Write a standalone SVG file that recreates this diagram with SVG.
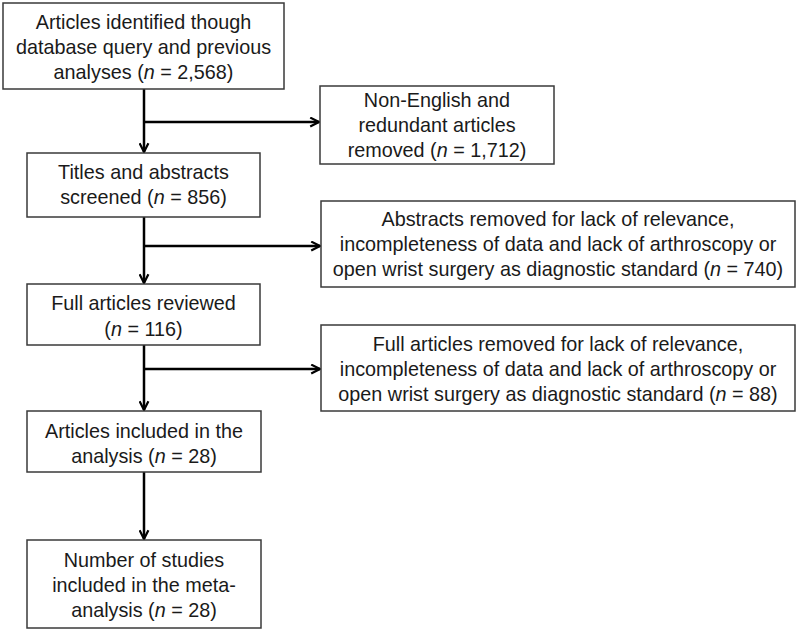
<svg xmlns="http://www.w3.org/2000/svg" width="800" height="630" viewBox="0 0 800 630">
<style>
.box{fill:#fff;stroke:#3a3a3a;stroke-width:1.5}
.t{font-family:"Liberation Sans",Arial,sans-serif;font-size:19.8px;fill:#1a1a1a;text-anchor:middle}
.c{fill:none;stroke:#000;stroke-width:2.5}
</style>
<defs>
<marker id="ah" viewBox="0 0 10 10" refX="9" refY="5" markerWidth="11" markerHeight="11" markerUnits="userSpaceOnUse" orient="auto">
<path d="M1,1 L9,5 L1,9" fill="none" stroke="#000" stroke-width="2"/>
</marker>
</defs>
<g id="connectors">
<line class="c" x1="144" y1="89" x2="144" y2="152" marker-end="url(#ah)"/>
<line class="c" x1="144" y1="122" x2="319" y2="122" marker-end="url(#ah)"/>
<line class="c" x1="144" y1="217" x2="144" y2="283" marker-end="url(#ah)"/>
<line class="c" x1="144" y1="246" x2="320" y2="246" marker-end="url(#ah)"/>
<line class="c" x1="144" y1="345" x2="144" y2="410" marker-end="url(#ah)"/>
<line class="c" x1="144" y1="369" x2="320" y2="369" marker-end="url(#ah)"/>
<line class="c" x1="144" y1="472" x2="144" y2="539" marker-end="url(#ah)"/>
</g>
<g id="n1">
<rect class="box" x="3" y="3" width="281" height="86"/>
<text class="t" x="143.5" y="29">Articles identified though</text>
<text class="t" x="143.5" y="54">database query and previous</text>
<text class="t" x="143.5" y="79">analyses (<tspan font-style="italic">n</tspan> = 2,568)</text>
</g>
<g id="n2">
<rect class="box" x="320" y="86" width="234" height="78"/>
<text class="t" x="437" y="107">Non-English and</text>
<text class="t" x="437" y="132">redundant articles</text>
<text class="t" x="437" y="157">removed (<tspan font-style="italic">n</tspan> = 1,712)</text>
</g>
<g id="n3">
<rect class="box" x="27" y="153" width="233" height="64"/>
<text class="t" x="143.5" y="179">Titles and abstracts</text>
<text class="t" x="143.5" y="204">screened (<tspan font-style="italic">n</tspan> = 856)</text>
</g>
<g id="n4">
<rect class="box" x="321" y="201" width="474" height="86"/>
<text class="t" x="558" y="226">Abstracts removed for lack of relevance,</text>
<text class="t" x="558" y="251">incompleteness of data and lack of arthroscopy or</text>
<text class="t" x="558" y="276">open wrist surgery as diagnostic standard (<tspan font-style="italic">n</tspan> = 740)</text>
</g>
<g id="n5">
<rect class="box" x="27" y="284" width="233" height="61"/>
<text class="t" x="143.5" y="310">Full articles reviewed</text>
<text class="t" x="143.5" y="336">(<tspan font-style="italic">n</tspan> = 116)</text>
</g>
<g id="n6">
<rect class="box" x="321" y="325" width="474" height="86"/>
<text class="t" x="558" y="351">Full articles removed for lack of relevance,</text>
<text class="t" x="558" y="376">incompleteness of data and lack of arthroscopy or</text>
<text class="t" x="558" y="401">open wrist surgery as diagnostic standard (<tspan font-style="italic">n</tspan> = 88)</text>
</g>
<g id="n7">
<rect class="box" x="27" y="411" width="234" height="61"/>
<text class="t" x="144" y="438">Articles included in the</text>
<text class="t" x="144" y="463">analysis (<tspan font-style="italic">n</tspan> = 28)</text>
</g>
<g id="n8">
<rect class="box" x="27" y="540" width="234" height="88"/>
<text class="t" x="144" y="567">Number of studies</text>
<text class="t" x="144" y="592">included in the meta-</text>
<text class="t" x="144" y="617">analysis (<tspan font-style="italic">n</tspan> = 28)</text>
</g>
</svg>
